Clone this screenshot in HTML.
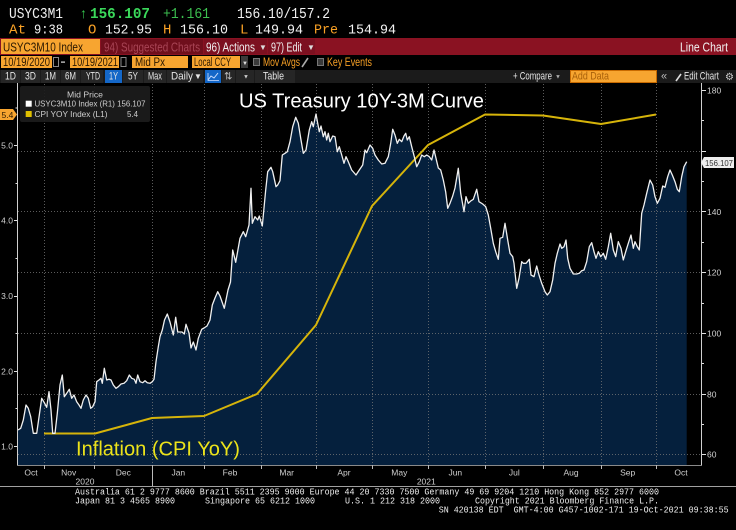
<!DOCTYPE html>
<html>
<head>
<meta charset="utf-8">
<style>
html,body{margin:0;padding:0;background:#000;width:736px;height:530px;overflow:hidden;}
svg{display:block;}
.mono{font-family:"Liberation Mono",monospace;}
.sans{font-family:"Liberation Sans",sans-serif;}
</style>
</head>
<body>
<svg width="736" height="530" viewBox="0 0 736 530" xmlns="http://www.w3.org/2000/svg">
<rect x="0" y="0" width="736" height="530" fill="#000"/>

<!-- Row 1 -->
<g class="mono" font-size="15">
<text x="9" y="18" fill="#f2f2f2" textLength="54" lengthAdjust="spacingAndGlyphs">USYC3M1</text>
<text x="80" y="18" fill="#35c64f" font-size="14" class="sans">↑</text>
<text x="90" y="18" fill="#3ad85a" font-weight="bold" textLength="60" lengthAdjust="spacingAndGlyphs">156.107</text>
<text x="163" y="18" fill="#3cc050" textLength="47" lengthAdjust="spacingAndGlyphs">+1.161</text>
<text x="237" y="18" fill="#f2f2f2" textLength="93" lengthAdjust="spacingAndGlyphs">156.10/157.2</text>
</g>
<!-- Row 2 -->
<g class="mono" font-size="14">
<text x="9" y="33.5" fill="#f9a125" textLength="17" lengthAdjust="spacingAndGlyphs">At</text>
<text x="34" y="33.5" fill="#f2f2f2" textLength="29" lengthAdjust="spacingAndGlyphs">9:38</text>
<text x="88" y="33.5" fill="#f9a125">O</text>
<text x="105" y="33.5" fill="#f2f2f2" textLength="47" lengthAdjust="spacingAndGlyphs">152.95</text>
<text x="163" y="33.5" fill="#f9a125">H</text>
<text x="180" y="33.5" fill="#f2f2f2" textLength="48" lengthAdjust="spacingAndGlyphs">156.10</text>
<text x="240" y="33.5" fill="#f9a125">L</text>
<text x="255" y="33.5" fill="#f2f2f2" textLength="48" lengthAdjust="spacingAndGlyphs">149.94</text>
<text x="314" y="33.5" fill="#f9a125" textLength="24" lengthAdjust="spacingAndGlyphs">Pre</text>
<text x="348" y="33.5" fill="#f2f2f2" textLength="48" lengthAdjust="spacingAndGlyphs">154.94</text>
</g>

<!-- Red bar -->
<rect x="0" y="38" width="736" height="17" fill="#8a1222"/>
<rect x="1" y="39" width="99" height="15" fill="#f7a530"/>
<text x="3" y="51.5" class="sans" font-size="13" fill="#2a1800" textLength="80" lengthAdjust="spacingAndGlyphs">USYC3M10 Index</text>
<rect x="101" y="39" width="102" height="15" fill="#6f0f1c"/>
<text x="104" y="51.5" class="sans" font-size="13" fill="#a94556" textLength="96" lengthAdjust="spacingAndGlyphs">94) Suggested Charts</text>
<rect x="204" y="39" width="63" height="15" fill="#7c1020"/>
<text x="206" y="51.5" class="sans" font-size="13" fill="#f2f2f2" textLength="49" lengthAdjust="spacingAndGlyphs">96) Actions</text>
<text x="259" y="50" class="sans" font-size="8" fill="#ddd">▼</text>
<rect x="268" y="39" width="47" height="15" fill="#7c1020"/>
<text x="271" y="51.5" class="sans" font-size="13" fill="#f2f2f2" textLength="31" lengthAdjust="spacingAndGlyphs">97) Edit</text>
<text x="307" y="50" class="sans" font-size="8" fill="#ddd">▼</text>
<text x="680" y="51.5" class="sans" font-size="13" fill="#f2f2f2" textLength="48" lengthAdjust="spacingAndGlyphs">Line Chart</text>

<!-- Row 3 -->
<g class="sans" font-size="11.5">
<rect x="1" y="56" width="51" height="12" fill="#f7a530"/>
<text x="3" y="66" fill="#2a1800" textLength="47" lengthAdjust="spacingAndGlyphs">10/19/2020</text>
<rect x="53.5" y="57.5" width="5" height="9" fill="none" stroke="#8a8a8a"/>
<rect x="61" y="61.5" width="4" height="1.2" fill="#ddd"/>
<rect x="70" y="56" width="49" height="12" fill="#f7a530"/>
<text x="72" y="66" fill="#2a1800" textLength="46" lengthAdjust="spacingAndGlyphs">10/19/2021</text>
<rect x="121" y="57.5" width="5" height="9" fill="none" stroke="#8a8a8a"/>
<rect x="132" y="56" width="56" height="12" fill="#f7a530"/>
<text x="135" y="66" fill="#2a1800" textLength="30" lengthAdjust="spacingAndGlyphs">Mid Px</text>
<rect x="192" y="56" width="48" height="12" fill="#f7a530"/>
<text x="194" y="66" fill="#2a1800" textLength="37" lengthAdjust="spacingAndGlyphs">Local CCY</text>
<rect x="241" y="56" width="7" height="12" fill="#3a3a3a"/>
<text x="242" y="65" font-size="6" fill="#ddd">▼</text>
<rect x="253.5" y="58.5" width="6" height="7" fill="#3a3a3a" stroke="#777"/>
<text x="263" y="66" fill="#f9a125" textLength="37" lengthAdjust="spacingAndGlyphs">Mov Avgs</text>
<path d="M302,67 L308,58" stroke="#aaa" stroke-width="1.6"/>
<rect x="317.5" y="58.5" width="6" height="7" fill="#3a3a3a" stroke="#777"/>
<text x="327" y="66" fill="#f9a125" textLength="45" lengthAdjust="spacingAndGlyphs">Key Events</text>
</g>

<!-- Row 4 -->
<rect x="0" y="70" width="736" height="13" fill="#1b1b1b"/>
<g class="sans" font-size="11" fill="#e6e6e6">
<rect x="1" y="70" width="19" height="13" fill="#262626"/>
<rect x="21" y="70" width="19" height="13" fill="#262626"/>
<rect x="41" y="70" width="19" height="13" fill="#262626"/>
<rect x="61" y="70" width="19" height="13" fill="#262626"/>
<rect x="81" y="70" width="22" height="13" fill="#262626"/>
<rect x="105" y="70" width="17" height="13" fill="#1467c8"/>
<rect x="123" y="70" width="20" height="13" fill="#262626"/>
<rect x="144" y="70" width="22" height="13" fill="#262626"/>
<rect x="167" y="70" width="36" height="13" fill="#262626"/>
<rect x="205" y="70" width="16" height="13" fill="#1467c8"/>
<rect x="222" y="70" width="13" height="13" fill="#262626"/>
<rect x="236" y="70" width="18" height="13" fill="#262626"/>
<rect x="255" y="70" width="40" height="13" fill="#262626"/>
<text x="5" y="79.5" textLength="11" lengthAdjust="spacingAndGlyphs">1D</text>
<text x="25" y="79.5" textLength="11" lengthAdjust="spacingAndGlyphs">3D</text>
<text x="45" y="79.5" textLength="11" lengthAdjust="spacingAndGlyphs">1M</text>
<text x="65" y="79.5" textLength="11" lengthAdjust="spacingAndGlyphs">6M</text>
<text x="86" y="79.5" textLength="14" lengthAdjust="spacingAndGlyphs">YTD</text>
<text x="109" y="79.5" textLength="9" lengthAdjust="spacingAndGlyphs">1Y</text>
<text x="128" y="79.5" textLength="10" lengthAdjust="spacingAndGlyphs">5Y</text>
<text x="148" y="79.5" textLength="14" lengthAdjust="spacingAndGlyphs">Max</text>
<text x="171" y="79.5" textLength="22" lengthAdjust="spacingAndGlyphs">Daily</text>
<text x="194" y="79" font-size="8">▼</text>
<path d="M208,80 L211,76 L214,78 L218,73" stroke="#cfe0ff" stroke-width="1" fill="none"/>
<path d="M208,73 L208,80.5 L219,80.5" stroke="#cfe0ff" stroke-width="0.8" fill="none"/>
<text x="224" y="79.5" font-size="10" fill="#bbb">⇅</text>
<text x="243" y="78.5" font-size="6" fill="#ccc">▼</text>
<text x="263" y="79.5" textLength="21" lengthAdjust="spacingAndGlyphs">Table</text>
<text x="513" y="79.5" textLength="39" lengthAdjust="spacingAndGlyphs">+ Compare</text>
<text x="555" y="78.5" font-size="6" fill="#aaa">▼</text>
<rect x="570" y="70" width="87" height="13" fill="#f7a530"/>
<rect x="570.5" y="70.5" width="86" height="12" fill="none" stroke="#c86a00"/>
<text x="572" y="79.5" fill="#a8600a" textLength="37" lengthAdjust="spacingAndGlyphs">Add Data</text>
<text x="661" y="79.5" fill="#bbb">«</text>
<path d="M676,81 L681,74" stroke="#ddd" stroke-width="1.6"/>
<text x="684" y="79.5" textLength="35" lengthAdjust="spacingAndGlyphs">Edit Chart</text>
<text x="725" y="80" font-size="10" fill="#ccc">⚙</text>
</g>

<!-- Plot fill -->
<path fill="#05203d" d="M18,465 L18,430 20.7,428.3 23.3,420 26,405 28.3,408.3 30.7,416.7 33.3,433.3 36.7,433.3 39.3,415 41.7,398.3 44.3,402.7 46.7,407.3 49,391.7 51,410 52.7,433.3 55,433.3 57.3,413.3 60,385 62.3,375 64.3,396.7 66.7,393.3 69.3,389.3 71.7,398.3 74,395 76.7,401.7 79,405 81,408.3 83.3,400 86,395 88.3,398.3 90.7,408.3 92.7,406.7 95,401.7 96.7,381.7 99,380 101,378.3 102.3,383.3 104.3,368.3 106.7,380 109,379.3 111,380 113.3,385 116,388.3 118.3,386.7 121,384 124,383.3 126.7,380.7 129.3,375 131.7,378.3 134.3,379.3 136,383.3 137.7,375 140,381.7 142.7,382.7 145,380.7 147.3,382.7 150,383.3 152.3,381.7 154,379.3 156,361.7 158.3,346.7 160,336.7 162.3,330 164.5,320 167.3,314 170,322 173.3,335 175.7,317.3 177.7,332 182,332 184.3,334 186,324.3 189,333 191,348 193.3,342 196,350 198.3,338.3 201.7,329.3 204,328 207,326 210,320 212.3,305 215,298 217.7,291.7 220,296 224.3,308.3 228,290 230.5,282 232.7,250 235.7,262.3 240,238.3 243.3,231.7 245.7,236.7 249,225 251,188.3 252.3,223.3 255,216.7 257.7,220 259.3,216 262.3,226 265.7,190 267.7,171.7 271,167.3 272.7,171.7 276,186.7 277.7,185 280,180.7 282.3,155 285,153.3 287.3,151.7 290,141.7 292.7,126.7 295.7,117.3 298.3,123.3 301,140 303.3,153.3 306,150 309.3,130 311.7,121.7 313.3,126.7 316,114 317.7,123.3 319.3,131.7 321,126 323.3,136.7 325,131.7 326.7,140 328.3,133.3 330,141.7 332.7,136 335,136.7 337.3,151.7 339.3,146.7 341.7,155 344,163.3 346,156.7 348.3,161.7 351.7,170 356,175 359.3,170 362.7,165 365,150 366.7,152.7 370,145 372.7,148.3 375,155 378.3,160 381.7,164 385,163.3 388.3,156.7 390.7,143.3 392.7,129.3 395,135 397.3,143.3 399.3,139.3 401.7,141.7 404,136 405.7,133.3 407.3,140 409.3,136.7 411.7,146.7 414.3,156.7 416.7,166.7 419.3,161.7 421.7,155 424.3,156.7 426.7,155 429.3,156.7 431.7,160 434,150 436,158.3 438.3,168 440.7,170 443.3,180 445.7,192 447.7,208.3 450,203.3 452.7,196 455,188 458.3,168.3 460.7,193.3 464,211.7 466,196.7 468.3,203.3 470.7,201 473.3,199.3 476.7,189.3 479,201.7 482.7,204 485.7,206.7 488.3,215 490.7,228.3 493.3,243.3 495.7,251.7 498.3,259.3 500,238.3 502.7,237.3 505,223.3 507.7,240 510,253.3 512.7,256.7 514,263.3 516.7,288.3 519,278.3 521.7,261.7 523.3,263.3 526,263.3 529.3,259.3 531,275 534,276.7 536.7,266 539,275 541.7,283.3 545,291.7 547.3,295 550,291.7 552.7,280 555,263.3 557.3,253.3 560,244 561.7,248.3 564,246.7 566,240 567.7,258.3 570,268.3 573.3,274 576.7,274 579.3,273.3 581.7,270.7 584,270 586.7,261.7 589.3,246.7 591.7,242.7 594,251.7 596,258.3 598.3,251.7 600.7,256.7 603.3,253.3 605.7,259.3 608.3,246.7 610.7,233.3 613.3,250 615.7,256.7 618.3,241.7 621,248.3 623.3,260 625.7,251.7 628.3,243.3 631,235 633.3,248.3 635,241.7 637.3,246.7 639.3,250 641.7,213.3 644,205 646.7,193.3 650,180 652.7,185 655,196.7 657.3,203.3 660,198.3 662.7,186 665,187.3 667.7,176.7 670,170 672.3,175 675,181.7 677.3,189.3 679.3,191.7 681.7,176.7 684,166.7 686.7,161.7 L686.7,465 Z"/>

<!-- Gridlines -->
<g stroke="#7a7a7a" stroke-opacity="0.75" stroke-width="1" stroke-dasharray="1 2" fill="none">
<path d="M18,151.5 H701 M18,211.5 H701 M18,272.5 H701 M18,333.5 H701 M18,394.5 H701 M18,454.5 H701"/>
<path d="M44.5,84 V465 M94.5,84 V465 M152.5,84 V465 M204.5,84 V465 M261.5,84 V465 M316.5,84 V465 M372.5,84 V465 M428.5,84 V465 M485.5,84 V465 M543.5,84 V465 M601.5,84 V465 M656.5,84 V465"/>
</g>

<!-- CPI line -->
<polyline fill="none" stroke="#d6b40a" stroke-width="2" stroke-linejoin="round" points="44,433.5 95,433.5 152,418 204,416 257,394 316,325 372,206 428,145 485,114.5 543,115.5 601,124 656,114.5"/>

<!-- USYC line -->
<polyline fill="none" stroke="#f0f0f0" stroke-width="1.3" stroke-linejoin="round" points="18,430 20.7,428.3 23.3,420 26,405 28.3,408.3 30.7,416.7 33.3,433.3 36.7,433.3 39.3,415 41.7,398.3 44.3,402.7 46.7,407.3 49,391.7 51,410 52.7,433.3 55,433.3 57.3,413.3 60,385 62.3,375 64.3,396.7 66.7,393.3 69.3,389.3 71.7,398.3 74,395 76.7,401.7 79,405 81,408.3 83.3,400 86,395 88.3,398.3 90.7,408.3 92.7,406.7 95,401.7 96.7,381.7 99,380 101,378.3 102.3,383.3 104.3,368.3 106.7,380 109,379.3 111,380 113.3,385 116,388.3 118.3,386.7 121,384 124,383.3 126.7,380.7 129.3,375 131.7,378.3 134.3,379.3 136,383.3 137.7,375 140,381.7 142.7,382.7 145,380.7 147.3,382.7 150,383.3 152.3,381.7 154,379.3 156,361.7 158.3,346.7 160,336.7 162.3,330 164.5,320 167.3,314 170,322 173.3,335 175.7,317.3 177.7,332 182,332 184.3,334 186,324.3 189,333 191,348 193.3,342 196,350 198.3,338.3 201.7,329.3 204,328 207,326 210,320 212.3,305 215,298 217.7,291.7 220,296 224.3,308.3 228,290 230.5,282 232.7,250 235.7,262.3 240,238.3 243.3,231.7 245.7,236.7 249,225 251,188.3 252.3,223.3 255,216.7 257.7,220 259.3,216 262.3,226 265.7,190 267.7,171.7 271,167.3 272.7,171.7 276,186.7 277.7,185 280,180.7 282.3,155 285,153.3 287.3,151.7 290,141.7 292.7,126.7 295.7,117.3 298.3,123.3 301,140 303.3,153.3 306,150 309.3,130 311.7,121.7 313.3,126.7 316,114 317.7,123.3 319.3,131.7 321,126 323.3,136.7 325,131.7 326.7,140 328.3,133.3 330,141.7 332.7,136 335,136.7 337.3,151.7 339.3,146.7 341.7,155 344,163.3 346,156.7 348.3,161.7 351.7,170 356,175 359.3,170 362.7,165 365,150 366.7,152.7 370,145 372.7,148.3 375,155 378.3,160 381.7,164 385,163.3 388.3,156.7 390.7,143.3 392.7,129.3 395,135 397.3,143.3 399.3,139.3 401.7,141.7 404,136 405.7,133.3 407.3,140 409.3,136.7 411.7,146.7 414.3,156.7 416.7,166.7 419.3,161.7 421.7,155 424.3,156.7 426.7,155 429.3,156.7 431.7,160 434,150 436,158.3 438.3,168 440.7,170 443.3,180 445.7,192 447.7,208.3 450,203.3 452.7,196 455,188 458.3,168.3 460.7,193.3 464,211.7 466,196.7 468.3,203.3 470.7,201 473.3,199.3 476.7,189.3 479,201.7 482.7,204 485.7,206.7 488.3,215 490.7,228.3 493.3,243.3 495.7,251.7 498.3,259.3 500,238.3 502.7,237.3 505,223.3 507.7,240 510,253.3 512.7,256.7 514,263.3 516.7,288.3 519,278.3 521.7,261.7 523.3,263.3 526,263.3 529.3,259.3 531,275 534,276.7 536.7,266 539,275 541.7,283.3 545,291.7 547.3,295 550,291.7 552.7,280 555,263.3 557.3,253.3 560,244 561.7,248.3 564,246.7 566,240 567.7,258.3 570,268.3 573.3,274 576.7,274 579.3,273.3 581.7,270.7 584,270 586.7,261.7 589.3,246.7 591.7,242.7 594,251.7 596,258.3 598.3,251.7 600.7,256.7 603.3,253.3 605.7,259.3 608.3,246.7 610.7,233.3 613.3,250 615.7,256.7 618.3,241.7 621,248.3 623.3,260 625.7,251.7 628.3,243.3 631,235 633.3,248.3 635,241.7 637.3,246.7 639.3,250 641.7,213.3 644,205 646.7,193.3 650,180 652.7,185 655,196.7 657.3,203.3 660,198.3 662.7,186 665,187.3 667.7,176.7 670,170 672.3,175 675,181.7 677.3,189.3 679.3,191.7 681.7,176.7 684,166.7 686.7,161.7"/>

<!-- Legend -->
<rect x="20" y="86" width="130" height="36" rx="2" fill="#1c1c1c" fill-opacity="0.92"/>
<g class="sans" font-size="8.5" fill="#cfcfcf">
<text x="85" y="97.7" text-anchor="middle" textLength="36" lengthAdjust="spacingAndGlyphs">Mid Price</text>
<rect x="25.7" y="100.7" width="6" height="6" fill="#ffffff"/>
<text x="34.5" y="106.7" textLength="111" lengthAdjust="spacingAndGlyphs">USYC3M10 Index  (R1) 156.107</text>
<rect x="25.7" y="111" width="6" height="6" fill="#e0c000"/>
<text x="34.5" y="117" textLength="73" lengthAdjust="spacingAndGlyphs">CPI YOY Index  (L1)</text>
<text x="127" y="117" textLength="11" lengthAdjust="spacingAndGlyphs">5.4</text>
</g>

<!-- Titles -->
<text x="239" y="107.5" class="sans" font-size="20" fill="#ffffff" textLength="245" lengthAdjust="spacingAndGlyphs">US Treasury 10Y-3M Curve</text>
<text x="76" y="455.5" class="sans" font-size="20" fill="#ece31a" textLength="164" lengthAdjust="spacingAndGlyphs">Inflation (CPI YoY)</text>

<!-- Axes -->
<g stroke="#d0d0d0" stroke-width="1" fill="none">
<path d="M17.5,83 V465.5"/>
<path d="M701.5,83 V465.5"/>
</g>
<path d="M17,465.5 H702" stroke="#8a8a8a" stroke-width="1"/>
<!-- left ticks -->
<g stroke="#e0e0e0" stroke-width="1">
<path d="M14,145.5 H17 M14,220.5 H17 M14,296.5 H17 M14,371.5 H17 M14,446.5 H17"/>
<path d="M15.5,108 H17 M15.5,183.5 H17 M15.5,258.5 H17 M15.5,333.5 H17 M15.5,408.5 H17"/>
<path d="M702,90.5 H706 M702,151.5 H706 M702,211.5 H706 M702,272.5 H706 M702,333.5 H706 M702,394.5 H706 M702,454.5 H706"/>
<path d="M702,120.5 H704 M702,181.5 H704 M702,242.5 H704 M702,303.5 H704 M702,363.5 H704 M702,424.5 H704"/>
</g>
<g class="sans" font-size="8.5" fill="#d0d0d0">
<text x="13" y="148.5" text-anchor="end">5.0</text>
<text x="13" y="223.5" text-anchor="end">4.0</text>
<text x="13" y="299" text-anchor="end">3.0</text>
<text x="13" y="374.5" text-anchor="end">2.0</text>
<text x="13" y="449.5" text-anchor="end">1.0</text>
<text x="707" y="93.5">180</text>
<text x="707" y="215">140</text>
<text x="707" y="275.5">120</text>
<text x="707" y="336.5">100</text>
<text x="707" y="397.5">80</text>
<text x="707" y="457.5">60</text>
</g>
<!-- tags -->
<polygon points="0,109 13,109 17,114.5 13,120 0,120" fill="#f7a530"/>
<text x="1.5" y="118" class="sans" font-size="8.5" fill="#2a1800">5.4</text>
<polygon points="701,162.5 704,157 734,157 734,168 704,168" fill="#eeeeee"/>
<text x="705" y="166" class="sans" font-size="8.5" fill="#333" textLength="28" lengthAdjust="spacingAndGlyphs">156.107</text>

<!-- x ticks -->
<g stroke="#bbbbbb" stroke-width="1">
<path d="M44.5,465 V469 M94.5,465 V469 M204.5,465 V469 M261.5,465 V469 M316.5,465 V469 M372.5,465 V469 M428.5,465 V469 M485.5,465 V469 M543.5,465 V469 M601.5,465 V469 M656.5,465 V469"/>
<path d="M152.5,465 V486"/>
</g>
<g class="sans" font-size="8.5" fill="#cfcfcf" text-anchor="middle">
<text x="31" y="475.5">Oct</text>
<text x="68.7" y="475.5">Nov</text>
<text x="123.3" y="475.5">Dec</text>
<text x="178.3" y="475.5">Jan</text>
<text x="230" y="475.5">Feb</text>
<text x="286.7" y="475.5">Mar</text>
<text x="344" y="475.5">Apr</text>
<text x="399.3" y="475.5">May</text>
<text x="455.3" y="475.5">Jun</text>
<text x="514.3" y="475.5">Jul</text>
<text x="571" y="475.5">Aug</text>
<text x="627.7" y="475.5">Sep</text>
<text x="681" y="475.5">Oct</text>
<text x="85" y="484.5">2020</text>
<text x="426.3" y="484.5">2021</text>
</g>

<!-- Footer -->
<path d="M0,486.5 H736" stroke="#a0a0a0" stroke-width="1"/>
<g class="mono" font-size="9" fill="#f0f0f0">
<text x="75" y="494.5" textLength="584" lengthAdjust="spacingAndGlyphs">Australia 61 2 9777 8600 Brazil 5511 2395 9000 Europe 44 20 7330 7500 Germany 49 69 9204 1210 Hong Kong 852 2977 6000</text>
<text x="75" y="503.5" textLength="100" lengthAdjust="spacingAndGlyphs">Japan 81 3 4565 8900</text>
<text x="205" y="503.5" textLength="110" lengthAdjust="spacingAndGlyphs">Singapore 65 6212 1000</text>
<text x="345" y="503.5" textLength="95" lengthAdjust="spacingAndGlyphs">U.S. 1 212 318 2000</text>
<text x="475" y="503.5" textLength="184" lengthAdjust="spacingAndGlyphs">Copyright 2021 Bloomberg Finance L.P.</text>
<text x="438.7" y="512.7" textLength="290" lengthAdjust="spacingAndGlyphs" xml:space="preserve" style="white-space:pre">SN 420138 EDT  GMT-4:00 G457-1002-171 19-Oct-2021 09:38:55</text>
</g>
</svg>
</body>
</html>
